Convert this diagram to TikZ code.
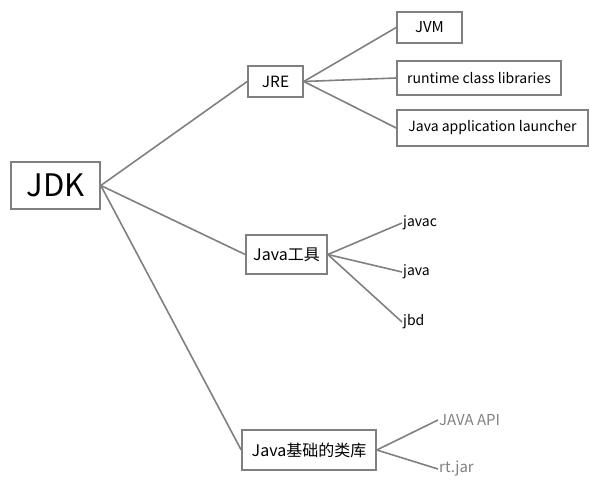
\documentclass[tikz,border=0pt]{standalone}
\usepackage{fontspec}
\setmainfont{Noto Sans CJK SC}
\usetikzlibrary{positioning}

\begin{document}
\begin{tikzpicture}[x=1pt,y=-1pt]
    \useasboundingbox (0,0) rectangle (598,500);

    \begin{scope}[every node/.style={draw=gray,line width=1.6pt,inner sep=0pt,font=\fontsize{14}{16}\selectfont}]
      \node[minimum width=89,minimum height=47,font=\fontsize{31}{34}\selectfont] (jdk) at (55.5,185.5) {JDK};
      \node[minimum width=55,minimum height=31,font=\fontsize{15.5}{17}\selectfont] (jre) at (275.5,81.5) {JRE};
      \node[minimum width=65,minimum height=31,font=\fontsize{15}{17}\selectfont] (jvm) at (429.5,27.5) {JVM};
      \node[minimum width=164,minimum height=34] (rtlib) at (479,78) {runtime class libraries};
      \node[minimum width=191,minimum height=36] (launcher) at (492.5,128) {Java application launcher};
      \node[minimum width=81,minimum height=39,font=\fontsize{16}{18}\selectfont] (tools) at (286.5,254.5) {Java工具};
      \node[minimum width=134,minimum height=40,font=\fontsize{16}{18}\selectfont] (baselib) at (309,450) {Java基础的类库};
    \end{scope}

    \begin{scope}[every node/.style={anchor=west,inner sep=1pt,font=\fontsize{14}{16}\selectfont}]
      \node (javac) at (402,223) {javac};
      \node (java) at (402,272) {java};
      \node (jbd) at (402,322) {jbd};
      \node[text=gray,font=\fontsize{15}{17}\selectfont] (api) at (438,420) {JAVA API};
      \node[text=gray,font=\fontsize{15}{17}\selectfont] (rtjar) at (438,469) {rt.jar};
    \end{scope}

    \begin{scope}[every path/.style={draw=gray,line width=1.6pt}]
      \path (jdk.east) edge (jre.west)
                       edge (tools.west)
                       edge (baselib.west);
      \path (jre.east) edge (jvm.west)
                       edge (rtlib.west)
                       edge (launcher.west);
      \path (tools.east) edge (javac.west)
                         edge (java.west)
                         edge (jbd.west);
      \path (baselib.east) edge (api.west)
                           edge (rtjar.west);
    \end{scope}
  \end{tikzpicture}
\end{document}
